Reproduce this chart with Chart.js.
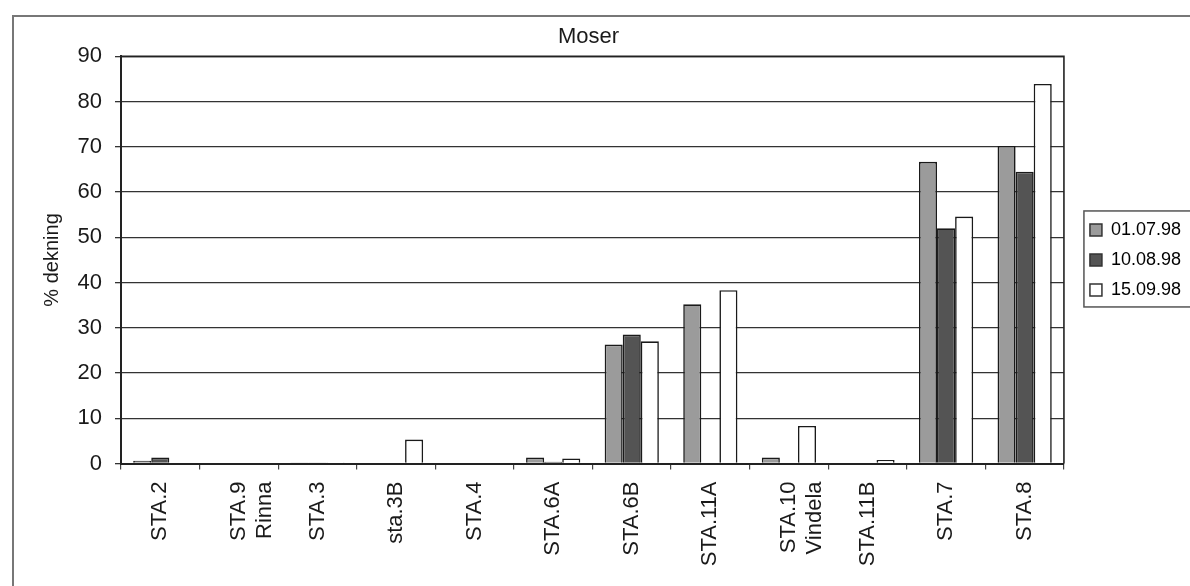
<!DOCTYPE html>
<html>
<head>
<meta charset="utf-8">
<script src="https://cdn.jsdelivr.net/npm/chart.js@4"></script>
<style>
  html, body { margin: 0; padding: 0; background: #fff; }
  #wrap { width: 1190px; height: 586px; }
</style>
</head>
<body>
<div id="wrap"><canvas id="myChart" width="1190" height="586"></canvas></div>
<script>
// stations along the x axis (multi-line ones as arrays)
var stations = ['STA.2', ['STA.9', 'Rinna'], 'STA.3', 'sta.3B', 'STA.4', 'STA.6A',
                'STA.6B', 'STA.11A', ['STA.10', 'Vindela'], 'STA.11B', 'STA.7', 'STA.8'];

var seriesNames = ['01.07.98', '10.08.98', '15.09.98'];

// % dekning per station
var jul01 = [0.6, 0, 0.2, 0, 0.15, 1.3, 26.3, 35.2, 1.3, 0, 66.7, 70.2];
var aug10 = [1.3, 0, 0.2, 0, 0.15, 0.4, 28.5, 0, 0, 0, 52.0, 64.5];
var sep15 = [0, 0, 0.1, 5.3, 0.15, 1.1, 27.0, 38.3, 8.3, 0.8, 54.6, 83.9];

var yTicks = [0, 10, 20, 30, 40, 50, 60, 70, 80, 90];

var fillColors = ['#9b9b9b', '#545454', '#ffffff'];

var font = "'Liberation Sans', Arial, sans-serif";
var ink = '#1a1a1a';

// page frame, plot frame and legend box
var framePlugin = {
    id: 'frames',
    beforeDraw: function (chart) {
        var c = chart.ctx;
        c.save();
        c.fillStyle = '#fff';
        c.fillRect(0, 0, chart.width, chart.height);
        c.strokeStyle = '#777';
        c.lineWidth = 2;
        c.strokeRect(13, 16, chart.width + 40, chart.height + 40);
        c.restore();
    },
    afterLayout: function (chart) {
        // nudge legend a bit off the plot, like the original
        chart.legend.left += 14;
        chart.legend.right += 14;
    },
    afterDraw: function (chart) {
        var c = chart.ctx;
        var a = chart.chartArea;
        c.save();
        c.strokeStyle = '#222';
        c.lineWidth = 1.6;
        c.beginPath();
        c.moveTo(a.left, a.top);
        c.lineTo(a.right, a.top);
        c.lineTo(a.right, a.bottom);
        c.stroke();

        var boxes = chart.legend.legendHitBoxes;
        if (boxes && boxes.length) {
            var first = boxes[0], last = boxes[boxes.length - 1];
            c.strokeStyle = '#555';
            c.lineWidth = 1.5;
            c.strokeRect(first.left - 6, first.top - 10, 200, last.top + last.height - first.top + 18);
        }
        c.restore();
    }
};

var datasets = [jul01, aug10, sep15].map(function (vals, i) {
    return {
        label: seriesNames[i],
        data: vals,
        backgroundColor: fillColors[i],
        borderColor: '#1a1a1a',
        borderWidth: 1.6,
        borderSkipped: 'start',
        categoryPercentage: 0.69,
        barPercentage: 1.0
    };
});

new Chart(document.getElementById('myChart'), {
    type: 'bar',
    data: { labels: stations, datasets: datasets },
    plugins: [framePlugin],
    options: {
        responsive: false,
        animation: false,
        devicePixelRatio: 1,
        layout: { padding: { left: 0, right: 13, top: 0, bottom: 0 } },
        plugins: {
            title: {
                display: true,
                text: 'Moser',
                color: ink,
                font: { family: font, size: 22, weight: 'normal' },
                padding: { top: 24, bottom: 6 }
            },
            legend: {
                display: true,
                position: 'right',
                fullSize: false,
                align: 'center',
                labels: {
                    color: ink,
                    font: { family: font, size: 18 },
                    boxWidth: 12,
                    boxHeight: 12,
                    padding: 12,
                    generateLabels: function (chart) {
                        return chart.data.datasets.map(function (ds, i) {
                            return {
                                text: ds.label,
                                fillStyle: ds.backgroundColor,
                                strokeStyle: '#333',
                                lineWidth: 1.5,
                                datasetIndex: i
                            };
                        });
                    }
                }
            },
            tooltip: { enabled: false }
        },
        scales: {
            x: {
                offset: true,
                grid: {
                    display: true,
                    offset: true,
                    drawOnChartArea: false,
                    drawTicks: true,
                    tickLength: 6,
                    color: '#444',
                    lineWidth: 1.2
                },
                border: { display: true, color: '#222', width: 2 },
                ticks: {
                    autoSkip: false,
                    minRotation: 90,
                    maxRotation: 90,
                    padding: 12,
                    color: ink,
                    font: { family: font, size: 22 }
                },
                afterFit: function (scale) { scale.height = 122.5; }
            },
            y: {
                min: 0,
                max: 90,
                afterBuildTicks: function (scale) {
                    scale.ticks = yTicks.map(function (v) { return { value: v }; });
                },
                grid: {
                    color: '#333',
                    lineWidth: 1.3,
                    drawTicks: true,
                    tickLength: 6
                },
                border: { display: true, color: '#222', width: 2 },
                ticks: {
                    padding: 13,
                    color: ink,
                    font: { family: font, size: 22 }
                },
                title: {
                    display: true,
                    text: '% dekning',
                    color: ink,
                    font: { family: font, size: 20 },
                    padding: { top: 40, bottom: 0 }
                },
                afterFit: function (scale) { scale.width = 121; }
            }
        }
    }
});
</script>
</body>
</html>
